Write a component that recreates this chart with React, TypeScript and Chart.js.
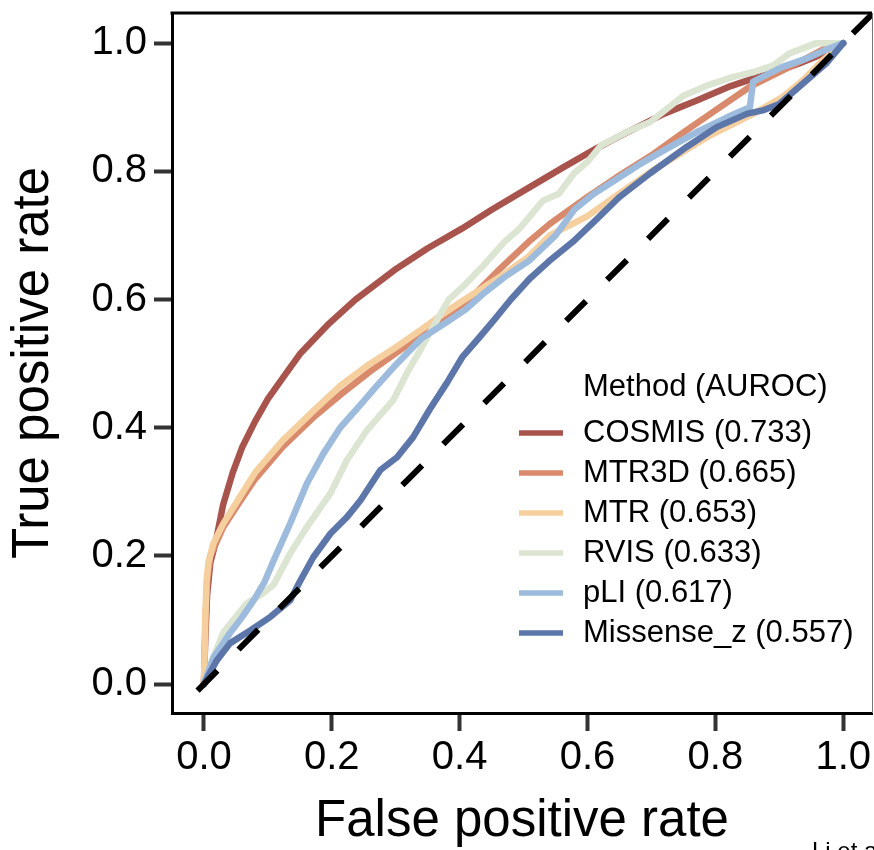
import React, { useEffect, useRef } from "react";
import { Chart, registerables } from "chart.js";

Chart.register(...registerables);

const FONT = '"Liberation Sans", Arial, Helvetica, sans-serif';

// ---- data ----
const methodNames = ["COSMIS", "MTR3D", "MTR", "RVIS", "pLI", "Missense_z"];
const aurocValues = [0.733, 0.665, 0.653, 0.633, 0.617, 0.557];
const methodColors = ["#A8534C", "#DA8A6C", "#F6CF9F", "#DCE4D2", "#9DBBDC", "#5D76AA"];

const cosmisFpr = [0, 0.002, 0.005, 0.01, 0.018, 0.03, 0.045, 0.06, 0.08, 0.1, 0.125, 0.15, 0.193, 0.237, 0.298, 0.35, 0.404, 0.45, 0.509, 0.56, 0.614, 0.66, 0.72, 0.77, 0.824, 0.86, 0.895, 0.93, 0.96, 1];
const cosmisTpr = [0, 0.07, 0.14, 0.19, 0.22, 0.28, 0.33, 0.37, 0.41, 0.445, 0.48, 0.515, 0.56, 0.6, 0.646, 0.68, 0.711, 0.74, 0.775, 0.805, 0.836, 0.86, 0.89, 0.91, 0.933, 0.945, 0.955, 0.968, 0.98, 1];

const mtr3dFpr = [0, 0.002, 0.005, 0.01, 0.03, 0.053, 0.08, 0.123, 0.17, 0.214, 0.26, 0.298, 0.34, 0.38, 0.42, 0.46, 0.508, 0.541, 0.6, 0.646, 0.7, 0.749, 0.8, 0.854, 0.9, 0.94, 0.968, 1];
const mtr3dTpr = [0, 0.09, 0.16, 0.2, 0.245, 0.28, 0.32, 0.37, 0.415, 0.452, 0.488, 0.515, 0.545, 0.575, 0.605, 0.645, 0.69, 0.718, 0.76, 0.791, 0.825, 0.86, 0.895, 0.932, 0.955, 0.975, 0.99, 1];

const mtrFpr = [0, 0.002, 0.004, 0.007, 0.015, 0.03, 0.053, 0.08, 0.123, 0.17, 0.214, 0.26, 0.298, 0.34, 0.369, 0.4, 0.439, 0.47, 0.508, 0.541, 0.6, 0.649, 0.7, 0.79, 0.86, 0.905, 0.937, 0.97, 1];
const mtrTpr = [0, 0.1, 0.16, 0.19, 0.22, 0.25, 0.287, 0.33, 0.38, 0.425, 0.466, 0.5, 0.524, 0.553, 0.574, 0.595, 0.62, 0.64, 0.667, 0.7, 0.73, 0.765, 0.8, 0.855, 0.89, 0.916, 0.942, 0.975, 1];

const rvisFpr = [0, 0.01, 0.03, 0.05, 0.067, 0.09, 0.109, 0.135, 0.161, 0.198, 0.224, 0.255, 0.296, 0.32, 0.34, 0.36, 0.383, 0.41, 0.438, 0.47, 0.494, 0.53, 0.555, 0.579, 0.6, 0.621, 0.663, 0.698, 0.75, 0.79, 0.827, 0.86, 0.89, 0.916, 0.958, 1];
const rvisTpr = [0, 0.03, 0.08, 0.105, 0.126, 0.14, 0.155, 0.204, 0.245, 0.298, 0.35, 0.396, 0.443, 0.49, 0.524, 0.56, 0.6, 0.625, 0.654, 0.69, 0.711, 0.754, 0.765, 0.797, 0.815, 0.84, 0.862, 0.877, 0.918, 0.935, 0.947, 0.955, 0.965, 0.984, 1, 1];

const pliFpr = [0, 0.015, 0.041, 0.06, 0.078, 0.095, 0.109, 0.135, 0.161, 0.187, 0.213, 0.244, 0.27, 0.298, 0.34, 0.383, 0.41, 0.438, 0.47, 0.509, 0.55, 0.579, 0.61, 0.649, 0.68, 0.72, 0.776, 0.82, 0.854, 0.859, 0.905, 0.94, 0.974, 1];
const pliTpr = [0, 0.042, 0.08, 0.105, 0.131, 0.16, 0.193, 0.251, 0.313, 0.36, 0.4, 0.435, 0.465, 0.496, 0.539, 0.567, 0.585, 0.61, 0.635, 0.661, 0.7, 0.74, 0.765, 0.79, 0.81, 0.833, 0.864, 0.885, 0.9, 0.94, 0.963, 0.975, 0.99, 1];

const missenseFpr = [0, 0.005, 0.02, 0.041, 0.073, 0.104, 0.135, 0.151, 0.171, 0.198, 0.224, 0.245, 0.276, 0.302, 0.327, 0.354, 0.38, 0.404, 0.43, 0.453, 0.48, 0.509, 0.54, 0.577, 0.614, 0.65, 0.698, 0.755, 0.802, 0.85, 0.874, 0.9, 0.937, 0.974, 1];
const missenseTpr = [0, 0.01, 0.037, 0.064, 0.084, 0.105, 0.131, 0.162, 0.198, 0.235, 0.261, 0.287, 0.334, 0.354, 0.385, 0.43, 0.47, 0.51, 0.54, 0.567, 0.6, 0.632, 0.66, 0.69, 0.725, 0.76, 0.797, 0.838, 0.869, 0.89, 0.895, 0.905, 0.937, 0.969, 1];

const diagonalFpr = [-0.01, 1.1];
const diagonalTpr = [-0.01, 1.1];

const xTickValues = [0, 0.2, 0.4, 0.6, 0.8, 1.0];
const yTickValues = [0, 0.2, 0.4, 0.6, 0.8, 1.0];

const legendTitle = "Method (AUROC)";
const xTitle = "False positive rate";
const yTitle = "True positive rate";
const caption = "Li et al.";

const seriesFpr = [cosmisFpr, mtr3dFpr, mtrFpr, rvisFpr, pliFpr, missenseFpr];
const seriesTpr = [cosmisTpr, mtr3dTpr, mtrTpr, rvisTpr, pliTpr, missenseTpr];

const toPoints = (xs: number[], ys: number[]) => xs.map((x, i) => ({ x, y: ys[i] }));

const framePlugin = {
  id: "frameAndLegend",
  afterDatasetsDraw(chart: any) {
    const { ctx, chartArea } = chart;
    ctx.save();
    // top border (thick black) and right border (thin gray)
    ctx.strokeStyle = "#000";
    ctx.lineWidth = 3;
    ctx.beginPath();
    ctx.moveTo(chartArea.left - 1.5, chartArea.top);
    ctx.lineTo(chartArea.right, chartArea.top);
    ctx.stroke();
    ctx.strokeStyle = "#777";
    ctx.lineWidth = 1;
    ctx.beginPath();
    ctx.moveTo(chartArea.right + 0.5, chartArea.top);
    ctx.lineTo(chartArea.right + 0.5, chartArea.bottom);
    ctx.stroke();

    // legend
    const lx = chartArea.left + 347;
    const tx = chartArea.left + 411;
    ctx.font = `31px ${FONT}`;
    ctx.fillStyle = "#000";
    ctx.textAlign = "left";
    ctx.textBaseline = "middle";
    ctx.fillText(legendTitle, tx, chartArea.top + 374);
    methodNames.forEach((name, i) => {
      const y = chartArea.top + 420 + 40 * i;
      ctx.strokeStyle = methodColors[i];
      ctx.lineWidth = 5.5;
      ctx.lineCap = "butt";
      ctx.beginPath();
      ctx.moveTo(lx, y);
      ctx.lineTo(lx + 44, y);
      ctx.stroke();
      ctx.fillStyle = "#000";
      ctx.fillText(`${name} (${aurocValues[i].toFixed(3)})`, tx, y);
    });

    // caption cut at bottom
    ctx.font = `24px ${FONT}`;
    ctx.textBaseline = "top";
    ctx.fillText(caption, 812, 840);
    ctx.restore();
  },
};

export default function App() {
  const canvasRef = useRef<HTMLCanvasElement | null>(null);

  useEffect(() => {
    const canvas = canvasRef.current;
    if (!canvas) return;
    const datasets: any[] = methodNames.map((name, i) => ({
      label: `${name} (${aurocValues[i].toFixed(3)})`,
      data: toPoints(seriesFpr[i], seriesTpr[i]),
      borderColor: methodColors[i],
      backgroundColor: methodColors[i],
      borderWidth: 6.5,
      pointRadius: 0,
      tension: 0,
      fill: false,
      borderJoinStyle: "round",
      borderCapStyle: "round",
      order: 10 - i,
    }));
    datasets.push({
      label: "diagonal",
      data: toPoints(diagonalFpr, diagonalTpr),
      borderColor: "#000",
      borderWidth: 6,
      borderDash: [28, 30],
      borderCapStyle: "butt",
      pointRadius: 0,
      fill: false,
      order: 0,
    });

    const chart = new Chart(canvas, {
      type: "line",
      data: { datasets },
      options: {
        animation: false,
        responsive: false,
        devicePixelRatio: 1,
        layout: { padding: { left: 0, top: 13, right: 2, bottom: 0 } },
        plugins: {
          legend: { display: false },
          tooltip: { enabled: false },
        },
        scales: {
          x: {
            type: "linear",
            min: -0.05,
            max: 1.045,
            afterFit: (s: any) => {
              s.height = 137;
              s.paddingLeft = 0;
              s.paddingRight = 0;
            },
            afterBuildTicks: (s: any) => {
              s.ticks = xTickValues.map((v) => ({ value: v }));
            },
            ticks: {
              callback: (v: any) => Number(v).toFixed(1),
              font: { family: FONT, size: 40, lineHeight: 1 },
              color: "#000",
              padding: 7,
              maxRotation: 0,
              autoSkip: false,
            },
            grid: {
              drawOnChartArea: false,
              drawTicks: true,
              tickLength: 18,
              tickWidth: 4,
              tickColor: "#333",
            },
            border: { display: true, color: "#000", width: 3 },
            title: {
              display: true,
              text: xTitle,
              color: "#000",
              font: { family: FONT, size: 51, lineHeight: 1 },
              padding: { top: 0, bottom: 3 },
            },
          },
          y: {
            type: "linear",
            min: -0.045,
            max: 1.047,
            afterFit: (s: any) => {
              s.width = 172;
              s.paddingTop = 0;
              s.paddingBottom = 0;
            },
            afterBuildTicks: (s: any) => {
              s.ticks = yTickValues.map((v) => ({ value: v }));
            },
            ticks: {
              callback: (v: any) => Number(v).toFixed(1),
              font: { family: FONT, size: 40, lineHeight: 1 },
              color: "#000",
              padding: 7,
              autoSkip: false,
            },
            grid: {
              drawOnChartArea: false,
              drawTicks: true,
              tickLength: 18,
              tickWidth: 4,
              tickColor: "#333",
            },
            border: { display: true, color: "#000", width: 3 },
            title: {
              display: true,
              text: yTitle,
              color: "#000",
              font: { family: FONT, size: 51, lineHeight: 1 },
              padding: { top: 8, bottom: 0 },
            },
          },
        },
      },
      plugins: [framePlugin],
    });

    return () => chart.destroy();
  }, []);

  return (
    <div style={{ position: "fixed", left: 0, top: 0, width: 874, height: 850, background: "#fff" }}>
      <canvas ref={canvasRef} width={874} height={850} style={{ display: "block", width: 874, height: 850 }} />
    </div>
  );
}
